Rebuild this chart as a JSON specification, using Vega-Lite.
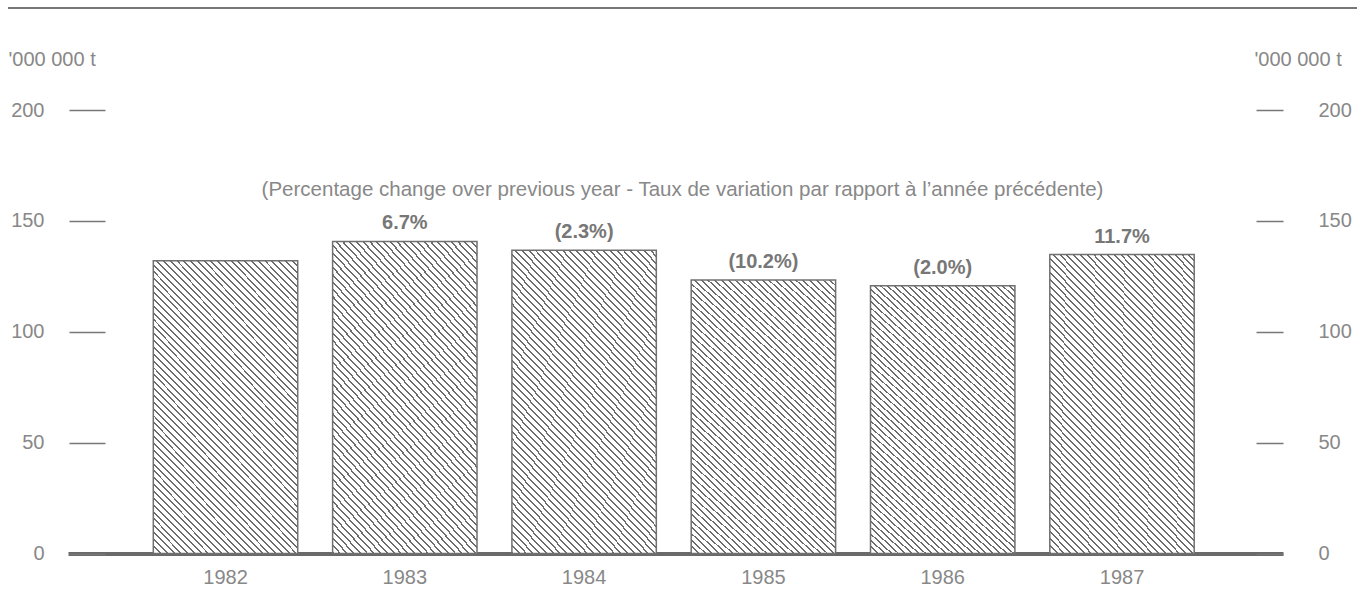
{
  "$schema": "https://vega.github.io/schema/vega-lite/v6.json",
  "width": 1215,
  "height": 443.5,
  "autosize": "none",
  "padding": {"left": 68, "top": 110, "right": 87, "bottom": 39.5},
  "background": "white",
  "config": {"view": {"stroke": null}, "font": "Liberation Sans"},
  "datasets": {
    "bars": [
      {"year": "1982", "value": 132.0, "label": ""},
      {"year": "1983", "value": 140.7, "label": "6.7%"},
      {"year": "1984", "value": 136.7, "label": "(2.3%)"},
      {"year": "1985", "value": 123.3, "label": "(10.2%)"},
      {"year": "1986", "value": 120.8, "label": "(2.0%)"},
      {"year": "1987", "value": 134.8, "label": "11.7%"}
    ]
  },
  "layer": [
    {
      "data": {"values": [{}]},
      "layer": [
        {
          "mark": {"type": "rule", "color": "#777777", "strokeWidth": 2, "clip": false},
          "encoding": {
            "x": {"datum": 0, "type": "quantitative", "scale": {"domain": [0, 1], "range": [-60, 1289]}, "axis": null},
            "x2": {"datum": 1},
            "y": {"datum": 246, "type": "quantitative", "scale": {"domain": [0, 200], "nice": false}, "axis": null}
          }
        },
        {
          "mark": {"type": "text", "fontSize": 20.5, "color": "#888888", "font": "Liberation Sans", "baseline": "middle", "align": "center"},
          "encoding": {
            "x": {"datum": 0.5, "type": "quantitative", "scale": {"domain": [0, 1], "range": [-60, 1289]}, "axis": null},
            "y": {"datum": 164, "type": "quantitative", "scale": {"domain": [0, 200], "nice": false}, "axis": null},
            "text": {"value": "(Percentage change over previous year - Taux de variation par rapport à l’année précédente)"}
          }
        }
      ]
    },
    {
      "data": {"name": "bars"},
      "layer": [
        {
          "mark": {
            "type": "bar",
            "stroke": "#707070",
            "strokeWidth": 1.5,
            "fill": {
              "gradient": "linear",
              "x1": 0, "y1": 1, "x2": 0.6, "y2": -0.2,
              "stops": [
                {"offset": 0, "color": "#6c6c6c"}, {"offset": 0.0045, "color": "#6c6c6c"}, {"offset": 0.0045, "color": "#fff"}, {"offset": 0.015625, "color": "#fff"},
                {"offset": 0.015625, "color": "#6c6c6c"}, {"offset": 0.020125, "color": "#6c6c6c"}, {"offset": 0.020125, "color": "#fff"}, {"offset": 0.03125, "color": "#fff"},
                {"offset": 0.03125, "color": "#6c6c6c"}, {"offset": 0.03575, "color": "#6c6c6c"}, {"offset": 0.03575, "color": "#fff"}, {"offset": 0.046875, "color": "#fff"},
                {"offset": 0.046875, "color": "#6c6c6c"}, {"offset": 0.051375, "color": "#6c6c6c"}, {"offset": 0.051375, "color": "#fff"}, {"offset": 0.0625, "color": "#fff"},
                {"offset": 0.0625, "color": "#6c6c6c"}, {"offset": 0.067, "color": "#6c6c6c"}, {"offset": 0.067, "color": "#fff"}, {"offset": 0.078125, "color": "#fff"},
                {"offset": 0.078125, "color": "#6c6c6c"}, {"offset": 0.082625, "color": "#6c6c6c"}, {"offset": 0.082625, "color": "#fff"}, {"offset": 0.09375, "color": "#fff"},
                {"offset": 0.09375, "color": "#6c6c6c"}, {"offset": 0.09825, "color": "#6c6c6c"}, {"offset": 0.09825, "color": "#fff"}, {"offset": 0.109375, "color": "#fff"},
                {"offset": 0.109375, "color": "#6c6c6c"}, {"offset": 0.113875, "color": "#6c6c6c"}, {"offset": 0.113875, "color": "#fff"}, {"offset": 0.125, "color": "#fff"},
                {"offset": 0.125, "color": "#6c6c6c"}, {"offset": 0.1295, "color": "#6c6c6c"}, {"offset": 0.1295, "color": "#fff"}, {"offset": 0.140625, "color": "#fff"},
                {"offset": 0.140625, "color": "#6c6c6c"}, {"offset": 0.145125, "color": "#6c6c6c"}, {"offset": 0.145125, "color": "#fff"}, {"offset": 0.15625, "color": "#fff"},
                {"offset": 0.15625, "color": "#6c6c6c"}, {"offset": 0.16075, "color": "#6c6c6c"}, {"offset": 0.16075, "color": "#fff"}, {"offset": 0.171875, "color": "#fff"},
                {"offset": 0.171875, "color": "#6c6c6c"}, {"offset": 0.176375, "color": "#6c6c6c"}, {"offset": 0.176375, "color": "#fff"}, {"offset": 0.1875, "color": "#fff"},
                {"offset": 0.1875, "color": "#6c6c6c"}, {"offset": 0.192, "color": "#6c6c6c"}, {"offset": 0.192, "color": "#fff"}, {"offset": 0.203125, "color": "#fff"},
                {"offset": 0.203125, "color": "#6c6c6c"}, {"offset": 0.207625, "color": "#6c6c6c"}, {"offset": 0.207625, "color": "#fff"}, {"offset": 0.21875, "color": "#fff"},
                {"offset": 0.21875, "color": "#6c6c6c"}, {"offset": 0.22325, "color": "#6c6c6c"}, {"offset": 0.22325, "color": "#fff"}, {"offset": 0.234375, "color": "#fff"},
                {"offset": 0.234375, "color": "#6c6c6c"}, {"offset": 0.238875, "color": "#6c6c6c"}, {"offset": 0.238875, "color": "#fff"}, {"offset": 0.25, "color": "#fff"},
                {"offset": 0.25, "color": "#6c6c6c"}, {"offset": 0.2545, "color": "#6c6c6c"}, {"offset": 0.2545, "color": "#fff"}, {"offset": 0.265625, "color": "#fff"},
                {"offset": 0.265625, "color": "#6c6c6c"}, {"offset": 0.270125, "color": "#6c6c6c"}, {"offset": 0.270125, "color": "#fff"}, {"offset": 0.28125, "color": "#fff"},
                {"offset": 0.28125, "color": "#6c6c6c"}, {"offset": 0.28575, "color": "#6c6c6c"}, {"offset": 0.28575, "color": "#fff"}, {"offset": 0.296875, "color": "#fff"},
                {"offset": 0.296875, "color": "#6c6c6c"}, {"offset": 0.301375, "color": "#6c6c6c"}, {"offset": 0.301375, "color": "#fff"}, {"offset": 0.3125, "color": "#fff"},
                {"offset": 0.3125, "color": "#6c6c6c"}, {"offset": 0.317, "color": "#6c6c6c"}, {"offset": 0.317, "color": "#fff"}, {"offset": 0.328125, "color": "#fff"},
                {"offset": 0.328125, "color": "#6c6c6c"}, {"offset": 0.332625, "color": "#6c6c6c"}, {"offset": 0.332625, "color": "#fff"}, {"offset": 0.34375, "color": "#fff"},
                {"offset": 0.34375, "color": "#6c6c6c"}, {"offset": 0.34825, "color": "#6c6c6c"}, {"offset": 0.34825, "color": "#fff"}, {"offset": 0.359375, "color": "#fff"},
                {"offset": 0.359375, "color": "#6c6c6c"}, {"offset": 0.363875, "color": "#6c6c6c"}, {"offset": 0.363875, "color": "#fff"}, {"offset": 0.375, "color": "#fff"},
                {"offset": 0.375, "color": "#6c6c6c"}, {"offset": 0.3795, "color": "#6c6c6c"}, {"offset": 0.3795, "color": "#fff"}, {"offset": 0.390625, "color": "#fff"},
                {"offset": 0.390625, "color": "#6c6c6c"}, {"offset": 0.395125, "color": "#6c6c6c"}, {"offset": 0.395125, "color": "#fff"}, {"offset": 0.40625, "color": "#fff"},
                {"offset": 0.40625, "color": "#6c6c6c"}, {"offset": 0.41075, "color": "#6c6c6c"}, {"offset": 0.41075, "color": "#fff"}, {"offset": 0.421875, "color": "#fff"},
                {"offset": 0.421875, "color": "#6c6c6c"}, {"offset": 0.426375, "color": "#6c6c6c"}, {"offset": 0.426375, "color": "#fff"}, {"offset": 0.4375, "color": "#fff"},
                {"offset": 0.4375, "color": "#6c6c6c"}, {"offset": 0.442, "color": "#6c6c6c"}, {"offset": 0.442, "color": "#fff"}, {"offset": 0.453125, "color": "#fff"},
                {"offset": 0.453125, "color": "#6c6c6c"}, {"offset": 0.457625, "color": "#6c6c6c"}, {"offset": 0.457625, "color": "#fff"}, {"offset": 0.46875, "color": "#fff"},
                {"offset": 0.46875, "color": "#6c6c6c"}, {"offset": 0.47325, "color": "#6c6c6c"}, {"offset": 0.47325, "color": "#fff"}, {"offset": 0.484375, "color": "#fff"},
                {"offset": 0.484375, "color": "#6c6c6c"}, {"offset": 0.488875, "color": "#6c6c6c"}, {"offset": 0.488875, "color": "#fff"}, {"offset": 0.5, "color": "#fff"},
                {"offset": 0.5, "color": "#6c6c6c"}, {"offset": 0.5045, "color": "#6c6c6c"}, {"offset": 0.5045, "color": "#fff"}, {"offset": 0.515625, "color": "#fff"},
                {"offset": 0.515625, "color": "#6c6c6c"}, {"offset": 0.520125, "color": "#6c6c6c"}, {"offset": 0.520125, "color": "#fff"}, {"offset": 0.53125, "color": "#fff"},
                {"offset": 0.53125, "color": "#6c6c6c"}, {"offset": 0.53575, "color": "#6c6c6c"}, {"offset": 0.53575, "color": "#fff"}, {"offset": 0.546875, "color": "#fff"},
                {"offset": 0.546875, "color": "#6c6c6c"}, {"offset": 0.551375, "color": "#6c6c6c"}, {"offset": 0.551375, "color": "#fff"}, {"offset": 0.5625, "color": "#fff"},
                {"offset": 0.5625, "color": "#6c6c6c"}, {"offset": 0.567, "color": "#6c6c6c"}, {"offset": 0.567, "color": "#fff"}, {"offset": 0.578125, "color": "#fff"},
                {"offset": 0.578125, "color": "#6c6c6c"}, {"offset": 0.582625, "color": "#6c6c6c"}, {"offset": 0.582625, "color": "#fff"}, {"offset": 0.59375, "color": "#fff"},
                {"offset": 0.59375, "color": "#6c6c6c"}, {"offset": 0.59825, "color": "#6c6c6c"}, {"offset": 0.59825, "color": "#fff"}, {"offset": 0.609375, "color": "#fff"},
                {"offset": 0.609375, "color": "#6c6c6c"}, {"offset": 0.613875, "color": "#6c6c6c"}, {"offset": 0.613875, "color": "#fff"}, {"offset": 0.625, "color": "#fff"},
                {"offset": 0.625, "color": "#6c6c6c"}, {"offset": 0.6295, "color": "#6c6c6c"}, {"offset": 0.6295, "color": "#fff"}, {"offset": 0.640625, "color": "#fff"},
                {"offset": 0.640625, "color": "#6c6c6c"}, {"offset": 0.645125, "color": "#6c6c6c"}, {"offset": 0.645125, "color": "#fff"}, {"offset": 0.65625, "color": "#fff"},
                {"offset": 0.65625, "color": "#6c6c6c"}, {"offset": 0.66075, "color": "#6c6c6c"}, {"offset": 0.66075, "color": "#fff"}, {"offset": 0.671875, "color": "#fff"},
                {"offset": 0.671875, "color": "#6c6c6c"}, {"offset": 0.676375, "color": "#6c6c6c"}, {"offset": 0.676375, "color": "#fff"}, {"offset": 0.6875, "color": "#fff"},
                {"offset": 0.6875, "color": "#6c6c6c"}, {"offset": 0.692, "color": "#6c6c6c"}, {"offset": 0.692, "color": "#fff"}, {"offset": 0.703125, "color": "#fff"},
                {"offset": 0.703125, "color": "#6c6c6c"}, {"offset": 0.707625, "color": "#6c6c6c"}, {"offset": 0.707625, "color": "#fff"}, {"offset": 0.71875, "color": "#fff"},
                {"offset": 0.71875, "color": "#6c6c6c"}, {"offset": 0.72325, "color": "#6c6c6c"}, {"offset": 0.72325, "color": "#fff"}, {"offset": 0.734375, "color": "#fff"},
                {"offset": 0.734375, "color": "#6c6c6c"}, {"offset": 0.738875, "color": "#6c6c6c"}, {"offset": 0.738875, "color": "#fff"}, {"offset": 0.75, "color": "#fff"},
                {"offset": 0.75, "color": "#6c6c6c"}, {"offset": 0.7545, "color": "#6c6c6c"}, {"offset": 0.7545, "color": "#fff"}, {"offset": 0.765625, "color": "#fff"},
                {"offset": 0.765625, "color": "#6c6c6c"}, {"offset": 0.770125, "color": "#6c6c6c"}, {"offset": 0.770125, "color": "#fff"}, {"offset": 0.78125, "color": "#fff"},
                {"offset": 0.78125, "color": "#6c6c6c"}, {"offset": 0.78575, "color": "#6c6c6c"}, {"offset": 0.78575, "color": "#fff"}, {"offset": 0.796875, "color": "#fff"},
                {"offset": 0.796875, "color": "#6c6c6c"}, {"offset": 0.801375, "color": "#6c6c6c"}, {"offset": 0.801375, "color": "#fff"}, {"offset": 0.8125, "color": "#fff"},
                {"offset": 0.8125, "color": "#6c6c6c"}, {"offset": 0.817, "color": "#6c6c6c"}, {"offset": 0.817, "color": "#fff"}, {"offset": 0.828125, "color": "#fff"},
                {"offset": 0.828125, "color": "#6c6c6c"}, {"offset": 0.832625, "color": "#6c6c6c"}, {"offset": 0.832625, "color": "#fff"}, {"offset": 0.84375, "color": "#fff"},
                {"offset": 0.84375, "color": "#6c6c6c"}, {"offset": 0.84825, "color": "#6c6c6c"}, {"offset": 0.84825, "color": "#fff"}, {"offset": 0.859375, "color": "#fff"},
                {"offset": 0.859375, "color": "#6c6c6c"}, {"offset": 0.863875, "color": "#6c6c6c"}, {"offset": 0.863875, "color": "#fff"}, {"offset": 0.875, "color": "#fff"},
                {"offset": 0.875, "color": "#6c6c6c"}, {"offset": 0.8795, "color": "#6c6c6c"}, {"offset": 0.8795, "color": "#fff"}, {"offset": 0.890625, "color": "#fff"},
                {"offset": 0.890625, "color": "#6c6c6c"}, {"offset": 0.895125, "color": "#6c6c6c"}, {"offset": 0.895125, "color": "#fff"}, {"offset": 0.90625, "color": "#fff"},
                {"offset": 0.90625, "color": "#6c6c6c"}, {"offset": 0.91075, "color": "#6c6c6c"}, {"offset": 0.91075, "color": "#fff"}, {"offset": 0.921875, "color": "#fff"},
                {"offset": 0.921875, "color": "#6c6c6c"}, {"offset": 0.926375, "color": "#6c6c6c"}, {"offset": 0.926375, "color": "#fff"}, {"offset": 0.9375, "color": "#fff"},
                {"offset": 0.9375, "color": "#6c6c6c"}, {"offset": 0.942, "color": "#6c6c6c"}, {"offset": 0.942, "color": "#fff"}, {"offset": 0.953125, "color": "#fff"},
                {"offset": 0.953125, "color": "#6c6c6c"}, {"offset": 0.957625, "color": "#6c6c6c"}, {"offset": 0.957625, "color": "#fff"}, {"offset": 0.96875, "color": "#fff"},
                {"offset": 0.96875, "color": "#6c6c6c"}, {"offset": 0.97325, "color": "#6c6c6c"}, {"offset": 0.97325, "color": "#fff"}, {"offset": 0.984375, "color": "#fff"},
                {"offset": 0.984375, "color": "#6c6c6c"}, {"offset": 0.988875, "color": "#6c6c6c"}, {"offset": 0.988875, "color": "#fff"}, {"offset": 1, "color": "#fff"}
              ]
            }
          },
          "encoding": {
            "x": {
              "field": "year", "type": "ordinal",
              "scale": {"paddingInner": 0.1946, "paddingOuter": 0.4855, "align": 0.49},
              "axis": {
                "title": null, "orient": "bottom", "ticks": false, "grid": false,
                "domain": true, "domainColor": "#6a6a6a", "domainWidth": 4,
                "labelPadding": 14, "labelFontSize": 20, "labelColor": "#888888",
                "labelFont": "Liberation Sans", "labelAngle": 0
              }
            },
            "y": {
              "field": "value", "type": "quantitative",
              "scale": {"domain": [0, 200], "nice": false},
              "axis": {
                "orient": "left", "offset": -37, "values": [0, 50, 100, 150, 200],
                "tickSize": 36, "tickColor": "#777777", "tickWidth": 1.5,
                "domain": false, "grid": false,
                "labelPadding": 25, "labelFontSize": 20, "labelColor": "#888888", "labelFont": "Liberation Sans",
                "title": "'000 000 t", "titleAngle": 0, "titleX": -97, "titleY": -51,
                "titleAlign": "left", "titleBaseline": "middle", "titleFontSize": 20,
                "titleFontWeight": "normal", "titleColor": "#888888", "titleFont": "Liberation Sans"
              }
            }
          }
        },
        {
          "mark": {"type": "text", "dy": -12, "baseline": "alphabetic", "align": "center", "fontSize": 20, "fontWeight": "bold", "color": "#777777", "font": "Liberation Sans"},
          "encoding": {
            "x": {
              "field": "year", "type": "ordinal",
              "scale": {"paddingInner": 0.1946, "paddingOuter": 0.4855, "align": 0.49}
            },
            "y": {
              "field": "value", "type": "quantitative",
              "scale": {"domain": [0, 200], "nice": false},
              "axis": {
                "orient": "right", "offset": -27, "values": [0, 50, 100, 150, 200],
                "tickSize": 27, "tickColor": "#777777", "tickWidth": 1.5,
                "domain": false, "grid": false,
                "labelPadding": 35, "labelFontSize": 20, "labelColor": "#888888", "labelFont": "Liberation Sans",
                "title": "'000 000 t", "titleAngle": 0, "titleX": -2, "titleY": -51,
                "titleAlign": "left", "titleBaseline": "middle", "titleFontSize": 20,
                "titleFontWeight": "normal", "titleColor": "#888888", "titleFont": "Liberation Sans"
              }
            },
            "text": {"field": "label"}
          }
        }
      ],
      "resolve": {"axis": {"y": "independent"}}
    }
  ],
  "resolve": {"scale": {"x": "independent"}, "axis": {"y": "independent"}}
}
